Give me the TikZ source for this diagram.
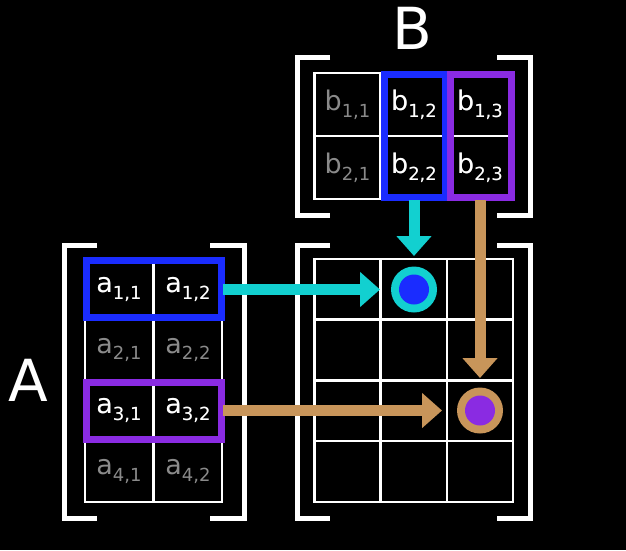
\documentclass[tikz,border=0pt]{standalone}
\usepackage{fontspec}
\setmainfont{DejaVu Sans}
\usetikzlibrary{arrows.meta}
\definecolor{hblue}{HTML}{1A2CFF}
\definecolor{hpurp}{HTML}{8A2BE2}
\definecolor{hcyan}{HTML}{12D0D0}
\definecolor{htan}{HTML}{C8955A}
\definecolor{hgrey}{HTML}{8A8A8A}
\newcommand{\ent}[2]{#1\raisebox{-0.45ex}{\fontsize{18}{18}\selectfont #2}}
\begin{document}
\begin{tikzpicture}[x=1pt,y=-1pt,
  cell/.style={draw=white,line width=2.5pt,minimum width=#1,inner sep=0pt,font=\fontsize{27}{27}\selectfont},
  acell/.style={cell=68pt,minimum height=61pt},
  bcell/.style={cell=66pt,minimum height=63pt},
  brk/.style={draw=white,line width=5pt},
  hl/.style={line width=7pt},
  arr/.style={line width=11pt,-{Triangle[length=20pt,width=34pt]}},
  big/.style={text=white,font=\fontsize{58}{58}\selectfont}]
\fill[black] (0,0) rectangle (626,550);
\useasboundingbox (0,0) rectangle (626,550);
% A
\foreach \r/\y in {1/289.5,2/350,3/410.5,4/471.5}{
  \foreach \c/\x in {1/119,2/188}{
    \node[acell,text=hgrey] (a\r\c) at (\x,\y) {\ent{a}{\r,\c}};}}
\node[acell,text=white] at (a11) {\ent{a}{1,1}};
\node[acell,text=white] at (a12) {\ent{a}{1,2}};
\node[acell,text=white] at (a31) {\ent{a}{3,1}};
\node[acell,text=white] at (a32) {\ent{a}{3,2}};
\draw[hl,hblue] (86,260) rectangle (221,317);
\draw[hl,hpurp] (86,382) rectangle (221,439);
% B
\foreach \r/\y in {1/104.5,2/167.5}{
  \foreach \c/\x in {1/347.5,2/414,3/480}{
    \node[bcell,text=hgrey] (b\r\c) at (\x,\y) {\ent{b}{\r,\c}};}}
\foreach \r in {1,2}{\foreach \c in {2,3}{\node[bcell,text=white] at (b\r\c) {\ent{b}{\r,\c}};}}
\draw[hl,hblue] (384,74) rectangle (445,197);
\draw[hl,hpurp] (450,74) rectangle (511,197);
% C
\foreach \r/\y in {1/289.5,2/350,3/410.5,4/471.5}{
  \foreach \c/\x in {1/347.5,2/414,3/480}{
    \node[cell=66pt,minimum height=61pt] (c\r\c) at (\x,\y) {};}}
% brackets
\draw[brk] (97,245) -- (64,245) -- (64,518) -- (97,518);
\draw[brk] (210,245) -- (244,245) -- (244,518) -- (210,518);
\draw[brk] (330,57) -- (297,57) -- (297,215) -- (330,215);
\draw[brk] (497,57) -- (530,57) -- (530,215) -- (497,215);
\draw[brk] (330,245) -- (297,245) -- (297,518) -- (330,518);
\draw[brk] (497,245) -- (530,245) -- (530,518) -- (497,518);
\node[big] (labA) at (28,380) {A};
\node[big] (labB) at (412,28) {B};
% arrows
\coordinate (e1) at (380,289.5);
\coordinate (e2) at (414,256);
\coordinate (e3) at (480,378);
\coordinate (e4) at (442,410.5);
\draw[arr,hcyan] (a12.east) -- (e1);
\draw[arr,hcyan] (b22.south) -- (e2);
\draw[arr,htan] (b23.south) -- (e3);
\draw[arr,htan] (a32.east) -- (e4);
% circles
\fill[hcyan] (c12) circle (23);
\fill[hblue] (c12) circle (15);
\fill[htan] (c33) circle (23);
\fill[hpurp] (c33) circle (15);
\end{tikzpicture}
\end{document}
